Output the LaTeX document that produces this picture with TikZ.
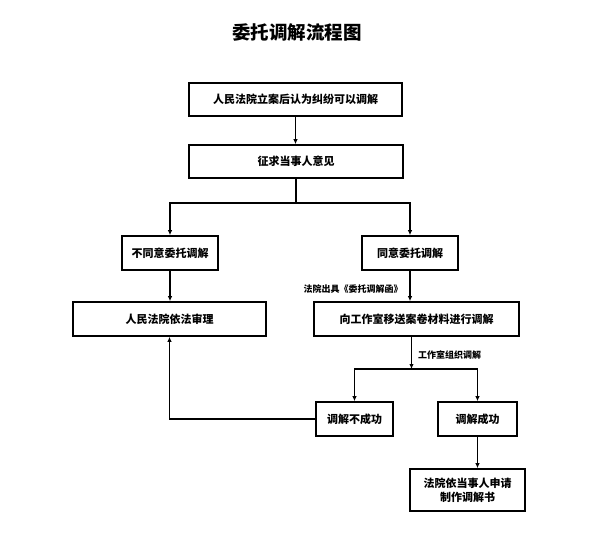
\documentclass[tikz,border=0pt]{standalone}
\usepackage{fontspec}
\newfontfamily\cjk{Noto Sans CJK SC}
\usetikzlibrary{arrows.meta}
\tikzset{
  box/.style={draw=black, line width=1.6pt, fill=white, inner sep=0pt, font=\cjk\bfseries\fontsize{11}{14}\selectfont, align=center},
  conn/.style={line width=1.4pt, draw=black},
  arr/.style={conn, -{Latex[length=5pt,width=4.5pt]}},
  lbl/.style={font=\cjk\bfseries\fontsize{9}{11}\selectfont, inner sep=0pt}
}
\begin{document}
\begin{tikzpicture}[x=1pt,y=-1pt]
\useasboundingbox (0,0) rectangle (592,548);
\node[font=\cjk\bfseries\fontsize{18.5}{20}\selectfont] (title) at (297,32) {委托调解流程图};
\node[box, minimum width=213pt, minimum height=33pt] (b1) at (295.5,99.5) {人民法院立案后认为纠纷可以调解};
\node[box, minimum width=214pt, minimum height=33pt] (b2) at (296,161.5) {征求当事人意见};
\node[box, minimum width=96pt, minimum height=34pt] (b3) at (170,253) {不同意委托调解};
\node[box, minimum width=96pt, minimum height=34pt] (b4) at (410,253) {同意委托调解};
\node[box, minimum width=193pt, minimum height=34pt] (b5) at (169.5,319) {人民法院依法审理};
\node[box, minimum width=205pt, minimum height=34pt] (b6) at (416.5,319) {向工作室移送案卷材料进行调解};
\node[box, minimum width=77pt, minimum height=34pt] (b7) at (354.5,419) {调解不成功};
\node[box, minimum width=79pt, minimum height=34pt] (b8) at (477.5,419) {调解成功};
\node[box, minimum width=115pt, minimum height=42pt] (b9) at (467.5,490) {法院依当事人申请\\制作调解书};
\coordinate (s1) at (296,203);
\coordinate (s2) at (411.5,369);
\draw[arr] (b1.south) -- (b1.south |- b2.north);
\draw[conn] (b2.south) -- (s1);
\draw[arr] (s1) -| (b3.north);
\draw[arr] (s1) -| (b4.north);
\draw[arr] (b3.south) -- (b3.south |- b5.north);
\draw[arr] (b4.south) -- (b4.south |- b6.north);
\node[lbl] (l1) at (353,289.5) {法院出具《委托调解函》};
\draw[arr] (b6.south -| s2) -- (s2);
\node[lbl, anchor=west] (l2) at (418,355) {工作室组织调解};
\draw[arr] (s2) -| (b7.north);
\draw[arr] (s2) -| (b8.north);
\draw[arr] (b7.west) -| (b5.south);
\draw[arr] (b8.south) -- (b8.south |- b9.north);
\end{tikzpicture}
\end{document}
